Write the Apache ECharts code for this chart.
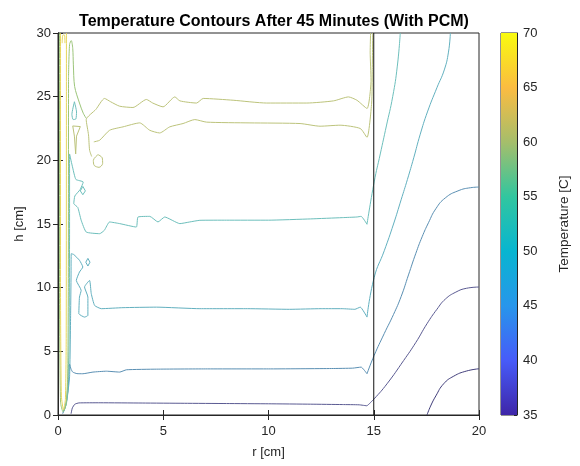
<!DOCTYPE html>
<html><head><meta charset="utf-8">
<script src="https://cdn.jsdelivr.net/npm/echarts@6/dist/echarts.min.js"></script>
<style>html,body{margin:0;padding:0;background:#fff}#c{width:580px;height:466px}</style>
</head><body><div id="c"></div>
<script>
// ---- Tick labels / ranges ----
const rTicks = [0, 5, 10, 15, 20];
const hTicks = [0, 5, 10, 15, 20, 25, 30];
const tempTicks = [35, 40, 45, 50, 55, 60, 65, 70];

// ---- Contour lines: [r (cm), h (cm)] ----
// inside the PCM region (r < 15) and in the outer region (r > 15)
const contourF = [[17.53,0],[17.7,0.7],[17.95,1.5],[18.32,2.45],[18.8,3.05],[19.4,3.45],[20,3.63]];
const contourE = [[0.62,0.1],[0.68,0.55],[0.8,0.85],[1.0,0.95],[2,0.96],[4,0.94],[6,0.92],[8,0.9],[10,0.88],[12,0.85],[13.5,0.82],[14.3,0.8],[14.68,0.72]];
const contourEOuter = [[14.68,0.72],[15.02,1.27],[15.63,2.45],[16.42,4.28],[17.0,5.7],[17.53,7.17],[18.0,8.3],[18.4,9.1],[18.9,9.65],[19.4,9.95],[20,10.05]];
const contourD = [[0.22,0.1],[0.35,0.6],[0.48,2.0],[0.55,4.0],[0.62,3.6],[0.7,3.37],[0.9,3.25],[1.18,3.24],[1.66,3.37],[2.3,3.44],[2.93,3.37],[3.25,3.55],[4.68,3.6],[7,3.62],[10,3.62],[13,3.65],[14.0,3.68],[14.4,3.76],[14.68,3.24]];
const contourDOuter = [[14.68,3.24],[15.02,4.68],[15.5,6.4],[15.94,7.9],[16.3,9.3],[16.65,11.0],[17.0,12.7],[17.3,14.0],[17.6,15.1],[17.95,16.2],[18.4,17.05],[19.0,17.6],[19.6,17.85],[20,17.9]];
const contourB = [[0.24,0.2],[0.4,0.9],[0.55,3],[0.6,8],[0.62,11],[0.63,12.67],[0.75,12.6],[1.02,12.15],[1.18,11.62],[1.02,11.23],[0.87,10.57],[1.1,9.79],[1.02,9.26],[0.99,7.96],[1.26,7.69],[1.42,7.82],[1.42,9.26],[1.26,10.05],[1.5,10.57],[1.58,9.53],[1.74,8.6],[2.06,8.35],[3.09,8.43],[4.68,8.47],[6.74,8.35],[9,8.35],[11,8.3],[12.5,8.35],[13.5,8.35],[14.1,8.3],[14.36,8.47],[14.68,7.69]];
const contourBOuter = [[14.68,7.69],[15.02,10.8],[15.5,12.9],[15.94,15.0],[16.3,16.9],[16.6,18.5],[16.9,20.2],[17.2,22.0],[17.55,23.8],[18.0,25.7],[18.35,27.1],[18.55,28.5],[18.64,30]];
const contourA = [[0.26,0.3],[0.42,1.2],[0.52,5],[0.55,15],[0.55,20.5],[0.7,19.4],[0.85,18.5],[1.2,18.3],[1.05,17.7],[0.8,17.2],[0.75,16.6],[0.94,16.3],[1.1,15.3],[1.34,14.37],[1.98,14.24],[2.2,14.5],[2.45,15.16],[2.93,15.03],[3.72,14.76],[3.8,15.55],[4.36,15.6],[4.75,15.16],[5.07,15.55],[5.79,15.03],[6.26,15.16],[6.74,15.29],[8,15.3],[10,15.3],[12,15.4],[13.5,15.5],[14.2,15.55],[14.4,15.6],[14.68,14.98]];
const contourAOuter = [[14.68,14.98],[15.02,18.3],[15.31,20.5],[15.6,22.7],[15.9,25.0],[16.12,27.4],[16.26,30]];
const contourAdiamondHi = [[1.18,17.95],[1.3,17.6],[1.18,17.3],[1.06,17.6],[1.18,17.95]];
const contourAdiamondLo = [[1.42,12.3],[1.52,12.0],[1.42,11.7],[1.32,12.0],[1.42,12.3]];
const contourAteardrop = [[0.78,24.6],[0.88,23.8],[0.85,23.25],[0.72,23.2],[0.66,23.6],[0.78,24.6]];
const contourUpper = [[14.85,30],[14.83,28.5],[14.87,26.3],[14.68,24.07],[14.2,24.72],[13.8,24.98],[13.09,24.67],[11.82,24.5],[9.91,24.5],[8.32,24.72],[6.9,24.86],[6.58,24.5],[5.79,24.67],[5.55,24.98],[4.99,24.2],[4.5,24.5],[4.2,24.78],[3.56,24.15],[2.93,24.25],[2.5,24.6],[2.21,24.86],[1.8,24.0],[1.34,23.2],[1.45,22.0],[1.5,20.8],[1.6,20.3]];
const contourLower = [[14.95,30],[14.93,27],[14.9,24.5],[14.68,21.8],[14.36,22.5],[13.4,22.76],[12.45,22.68],[11.5,22.89],[9.12,22.94],[7.06,23.0],[6.5,23.2],[5.94,22.89],[5.31,22.63],[4.83,22.15],[4.36,22.36],[3.88,22.94],[3.09,22.63],[2.45,22.36],[1.98,21.58],[1.7,21.45]];
const contourOval = [[1.9,20.45],[2.1,20.2],[2.12,19.75],[1.95,19.45],[1.72,19.6],[1.68,20.0],[1.9,20.45]];
const contourWedge = [[0.7,22.7],[1.06,22.65],[0.88,21.9],[0.84,20.5],[0.8,20.5],[0.78,21.9],[0.7,22.7]];
const contourGreenCap = [[0.5,26.5],[0.55,29.1],[0.63,29.4],[0.7,28.8],[0.73,27.5],[0.79,25.8],[1.02,24.5],[1.2,23.7],[1.34,23.3]];
const contourGreenWall = [[0.07,30],[0.07,10],[0.12,1],[0.24,0.25],[0.38,0.8],[0.46,3],[0.49,10],[0.5,26.5]];
const contourYellowWall = [[0.12,30],[0.12,10],[0.16,1.5],[0.26,0.4],[0.35,1.2],[0.39,6],[0.4,30]];
const contourYellowCap = [[0.2,29.2],[0.22,29.8],[0.3,29.85],[0.33,29.2]];
const pcmBoundary = [[15,0],[15,30]];

// ---- Colour bar (parula) ----
const tempRange = [35, 70];
const parulaStops = [
  [0.000,'rgb(62,38,168)'],[0.143,'rgb(71,91,249)'],[0.286,'rgb(39,150,235)'],
  [0.429,'rgb(8,181,208)'],[0.571,'rgb(49,198,159)'],[0.714,'rgb(165,190,107)'],
  [0.857,'rgb(251,188,65)'],[1.000,'rgb(249,251,14)']
];

const cF='#403d7a', cE='#5a5a92', cD='#5a8fb3', cB='#62b0bf', cA='#6dbfbc', cYG='#bcc37b', cG='#9cc57a', cY='#e6d65c';

// [data, colour, smoothness]
const groups = [
  [contourF,cF,0.5],[contourE,cE,0.15],[contourEOuter,cE,0.5],[contourD,cD,0.15],[contourDOuter,cD,0.5],
  [contourB,cB,0.15],[contourBOuter,cB,0.5],[contourA,cA,0.15],[contourAOuter,cA,0.5],
  [contourAdiamondHi,cA,0],[contourAdiamondLo,cB,0],[contourAteardrop,cA,0.2],
  [contourUpper,cYG,0.2],[contourLower,cYG,0.2],[contourOval,cYG,0.3],[contourWedge,cYG,0],
  [contourGreenCap,cG,0.3],[contourGreenWall,cG,0.2],[contourYellowWall,cY,0.2],[contourYellowCap,cY,0.4]
];

const font = 'Liberation Sans, Arial, Helvetica, sans-serif';
const series = groups.map(([d,c,s]) => ({
  type:'line', xAxisIndex:0, yAxisIndex:0, data:d, showSymbol:false, symbol:'none',
  smooth:s, lineStyle:{color:c, width:1}, silent:true, z:3, clip:true
}));
series.push({type:'line', xAxisIndex:0, yAxisIndex:0, data:pcmBoundary, symbol:'none',
  lineStyle:{color:'#111', width:1}, silent:true, z:4});
series.push({
  type:'custom', xAxisIndex:2, yAxisIndex:2, data:[[0, tempRange[0], tempRange[1]]],
  renderItem:(params, api) => {
    const p0 = api.coord([0, api.value(1)]);
    const p1 = api.coord([0, api.value(2)]);
    const w = api.size([1, 0])[0];
    return {type:'rect', shape:{x:p0[0]-w/2, y:p1[1], width:w, height:p0[1]-p1[1]},
      style:{fill:new echarts.graphic.LinearGradient(0,1,0,0, parulaStops.map(s=>({offset:s[0], color:s[1]})))}};
  }
});

const axColor = '#262626';
const tickInside = {show:true, inside:true, length:5, lineStyle:{color:axColor, width:1}};
const option = {
  animation:false,
  backgroundColor:'#fff',
  title:{text:'Temperature Contours After 45 Minutes (With PCM)', left:269, top:9, textAlign:'center',
    textStyle:{fontFamily:font, fontSize:16, fontWeight:'bold', color:'#000'}},
  grid:[
    {left:58, top:33, width:421, height:382, show:true, borderColor:axColor, borderWidth:1, backgroundColor:'transparent'},
    {left:501, top:33, width:16, height:382, show:true, borderColor:axColor, borderWidth:1, backgroundColor:'transparent'}
  ],
  xAxis:[
    {type:'value', gridIndex:0, min:0, max:20, interval:5, position:'bottom',
     axisLine:{show:true, lineStyle:{color:axColor}}, axisTick:tickInside, splitLine:{show:false},
     axisLabel:{fontFamily:font, fontSize:13, color:axColor, margin:10},
     name:'r [cm]', nameLocation:'middle', nameGap:31, nameTextStyle:{fontFamily:font, fontSize:13, color:axColor}},
    {type:'value', gridIndex:0, min:0, max:20, interval:5, position:'top',
     axisLine:{show:true, lineStyle:{color:axColor}}, axisTick:tickInside, axisLabel:{show:false}, splitLine:{show:false}},
    {type:'category', gridIndex:1, data:['cb'], show:false, boundaryGap:true}
  ],
  yAxis:[
    {type:'value', gridIndex:0, min:0, max:30, interval:5, position:'left',
     axisLine:{show:true, lineStyle:{color:axColor}}, axisTick:tickInside, splitLine:{show:false},
     axisLabel:{fontFamily:font, fontSize:13, color:axColor, margin:7},
     name:'h [cm]', nameLocation:'middle', nameGap:27, nameRotate:90, nameTextStyle:{fontFamily:font, fontSize:13, color:axColor}},
    {type:'value', gridIndex:0, min:0, max:30, interval:5, position:'right',
     axisLine:{show:true, lineStyle:{color:axColor}}, axisTick:tickInside, axisLabel:{show:false}, splitLine:{show:false}},
    {type:'value', gridIndex:1, min:35, max:70, interval:5, position:'right',
     axisLine:{show:true, lineStyle:{color:axColor}}, axisTick:{show:true, inside:true, length:3, lineStyle:{color:axColor}},
     splitLine:{show:false},
     axisLabel:{fontFamily:font, fontSize:13, color:axColor, margin:6},
     name:'Temperature [C]', nameLocation:'middle', nameGap:40, nameRotate:90,
     nameTextStyle:{fontFamily:font, fontSize:13.5, color:axColor}}
  ],
  series:series
};
const chart = echarts.init(document.getElementById('c'), null, {renderer:'canvas'});
chart.setOption(option);
</script></body></html>
